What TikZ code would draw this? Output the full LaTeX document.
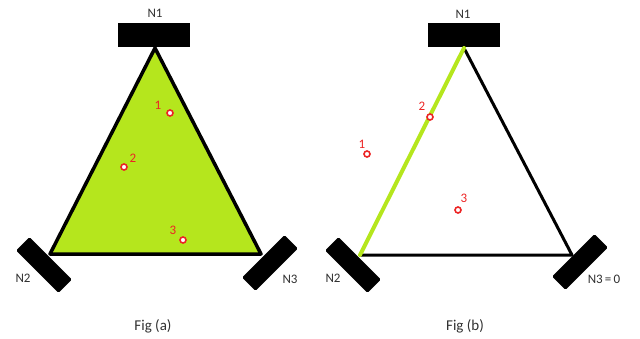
\documentclass[tikz,border=0pt]{standalone}
\usepackage{fontspec}
\setmainfont{Carlito}
\definecolor{lime}{HTML}{B5E61D}
\definecolor{ptred}{HTML}{EC2424}
\definecolor{labgray}{HTML}{303030}
\begin{document}
\begin{tikzpicture}[x=1pt,y=-1pt,
  mirror/.style={fill=black,draw=none,rounded corners=1.5pt,minimum width=60pt,minimum height=19pt,inner sep=0pt},
  topmirror/.style={fill=black,draw=none,minimum width=72pt,minimum height=24pt,inner sep=0pt},
  nlab/.style={font=\fontsize{13}{15}\selectfont,text=labgray,inner sep=0pt},
  figlab/.style={font=\fontsize{15}{17}\selectfont,text=labgray,inner sep=0pt},
  ptlab/.style={font=\fontsize{13}{15}\selectfont,text=ptred,inner sep=0pt},
  pt/.style={circle,draw=ptred,line width=1.6pt,fill=white,minimum size=6pt,inner sep=0pt},
  edge/.style={line width=3.5pt,line cap=round,line join=round},
  greenedge/.style={draw=lime,line width=4pt,line cap=round}]
\useasboundingbox (0,0) rectangle (640,338);
% ---------- Fig (a) ----------
\coordinate (a1) at (155,48);
\coordinate (a2) at (50,254);
\coordinate (a3) at (261,254);
\fill[lime] (a1) -- (a2) -- (a3) -- cycle;
\node[topmirror] (aN1box) at (154,35) {};
\node[mirror,rotate=-45] (aN2box) at (44,265) {};
\node[mirror,rotate=45] (aN3box) at (270,263) {};
\draw[edge] (a1) -- (a2) -- (a3) -- cycle;
\node[nlab] (aN1) at (155,13) {N1};
\node[nlab] (aN2) at (23,278) {N2};
\node[nlab] (aN3) at (290,279) {N3};
\node[pt] (ap1) at (170,113) {};
\node[ptlab] (ap1l) at (158,105) {1};
\node[pt] (ap2) at (124,167) {};
\node[ptlab] (ap2l) at (133,158) {2};
\node[pt] (ap3) at (183,240) {};
\node[ptlab] (ap3l) at (173,230) {3};
\node[figlab] (afig) at (153,326) {Fig (a)};
% ---------- Fig (b) ----------
\coordinate (b1) at (464,48);
\coordinate (b2) at (360,255);
\coordinate (b3) at (572,255);
\node[topmirror] (bN1box) at (464,35) {};
\node[mirror,rotate=-45] (bN2box) at (353,265) {};
\node[mirror,rotate=45] (bN3box) at (580,262) {};
\draw[edge,line width=3pt] (b2) -- (b3) -- (b1);
\draw[greenedge] (b1) -- (b2);
\node[nlab] (bN1) at (463,14) {N1};
\node[nlab] (bN2) at (333,278) {N2};
\node[nlab] (bN3) at (604,279) {N3\,=\,0};
\node[pt] (bp1) at (367,154) {};
\node[ptlab] (bp1l) at (362,144) {1};
\node[pt] (bp2) at (430,117) {};
\node[ptlab] (bp2l) at (422,106) {2};
\node[pt] (bp3) at (458,210) {};
\node[ptlab] (bp3l) at (464,198) {3};
\node[figlab] (bfig) at (465,326) {Fig (b)};
\end{tikzpicture}
\end{document}
